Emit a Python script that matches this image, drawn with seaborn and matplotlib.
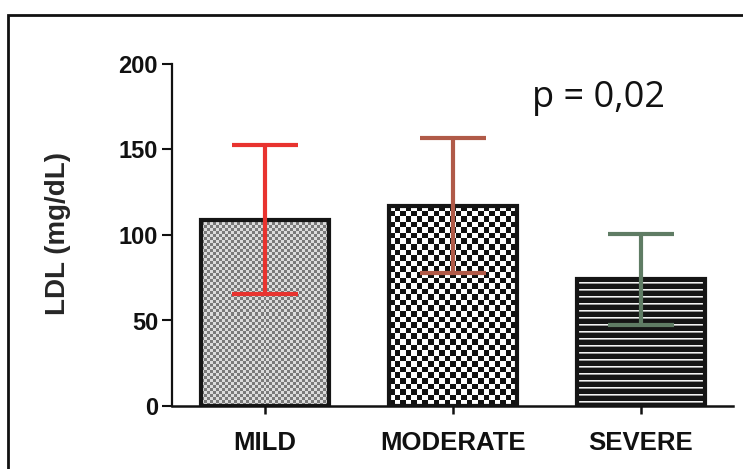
import numpy as np
import pandas as pd
import matplotlib
matplotlib.use("Agg")
import matplotlib.pyplot as plt
import seaborn as sns
from matplotlib.patches import Rectangle
from matplotlib.colors import ListedColormap

# ---- data ----
categories = ["MILD", "MODERATE", "SEVERE"]
means = [109, 117, 74]
sds = [43.5, 39.5, 26.5]
err_colors = ["#e8332f", "#b05a48", "#5f7c64"]
yticks = [0, 50, 100, 150, 200]
ylabel = "LDL (mg/dL)"
p_text = "p = 0,02"

sns.set_theme(style="white")
plt.rcParams["font.family"] = ["Liberation Sans", "DejaVu Sans"]

W, H = 743, 469
fig = plt.figure(figsize=(W / 100, H / 100), dpi=100)
ax = fig.add_axes([172 / W, 1 - 406 / H, (733 - 172) / W, (406 - 64) / H])

df = pd.DataFrame({"group": categories, "ldl": means})
sns.barplot(data=df, x="group", y="ldl", order=categories, errorbar=None,
            width=0.68, color="white", ax=ax, zorder=3)

ax.set_xlim(-0.495, 2.49)
ax.set_ylim(0, 200)
ax.set_yticks(yticks)
ax.set_xlabel("")
ax.set_ylabel(ylabel, fontsize=20, fontweight="bold")
ax.yaxis.set_label_coords(-0.180, 0.505)

fig.canvas.draw()

# fill patterns (style only)
fills = [
    ("checker", 3.0, ["#dcdcdc", "#7a7a7a"]),
    ("checker", 5.5, ["#ffffff", "#111111"]),
    ("stripes", 1.0, ["#151515", "#f4f4f4", "#9a9a9a"]),
]
for p, (kind, cell, cols) in zip(ax.patches, fills):
    x0, y0 = p.get_x(), p.get_y()
    w, h = p.get_width(), p.get_height()
    d = ax.transData.transform([[x0, y0], [x0 + w, y0 + h]])
    wpx, hpx = np.abs(d[1] - d[0])
    ny = max(1, int(round(hpx / cell)))
    if kind == "checker":
        nx = max(1, int(round(wpx / cell)))
        arr = np.indices((ny, nx)).sum(0) % 2
        vmax = 1
    else:
        rows = [1 if r % 7 == 3 else (2 if r % 7 == 4 else 0) for r in range(ny)]
        arr = np.array(rows)[:, None] * np.ones((1, 4))
        vmax = 2
    im = ax.imshow(arr, extent=(x0, x0 + w, y0, y0 + h), cmap=ListedColormap(cols),
                   vmin=0, vmax=vmax, interpolation="nearest", aspect="auto", zorder=2)
    im.set_clip_path(p)
    p.set_facecolor("none")
    p.set_edgecolor("#151515")
    p.set_linewidth(3)

ax.set_xlim(-0.495, 2.49)
ax.set_ylim(0, 200)

for i, cat in enumerate(categories):
    ax.errorbar(x=i, y=means[i], yerr=sds[i], fmt="none", ecolor=err_colors[i],
                elinewidth=3, capsize=24, capthick=3, zorder=4)

for s in ["top", "right"]:
    ax.spines[s].set_visible(False)
ax.spines["left"].set_linewidth(1.6)
ax.spines["bottom"].set_linewidth(1.8)
ax.spines["left"].set_color("#111111")
ax.spines["bottom"].set_color("#111111")

ax.tick_params(axis="y", direction="out", length=7, width=1.5, color="#111111",
               labelsize=17, pad=3, left=True)
ax.tick_params(axis="x", direction="out", length=6, width=1.8, color="#111111",
               labelsize=18.5, pad=12, bottom=True)
for lab in ax.get_yticklabels() + ax.get_xticklabels():
    lab.set_fontweight("bold")
    lab.set_color("#111111")

ax.text(0.642, 0.874, p_text, transform=ax.transAxes, fontsize=26,
        family=["Open Sans", "DejaVu Sans"], va="baseline", ha="left", color="#111111")

fig.patches.append(Rectangle((8 / W, -0.5), 2, (1 - 15 / H) + 0.5,
                             transform=fig.transFigure, fill=False,
                             linewidth=2, edgecolor="#111111"))

fig.savefig("out.png", dpi=100)
